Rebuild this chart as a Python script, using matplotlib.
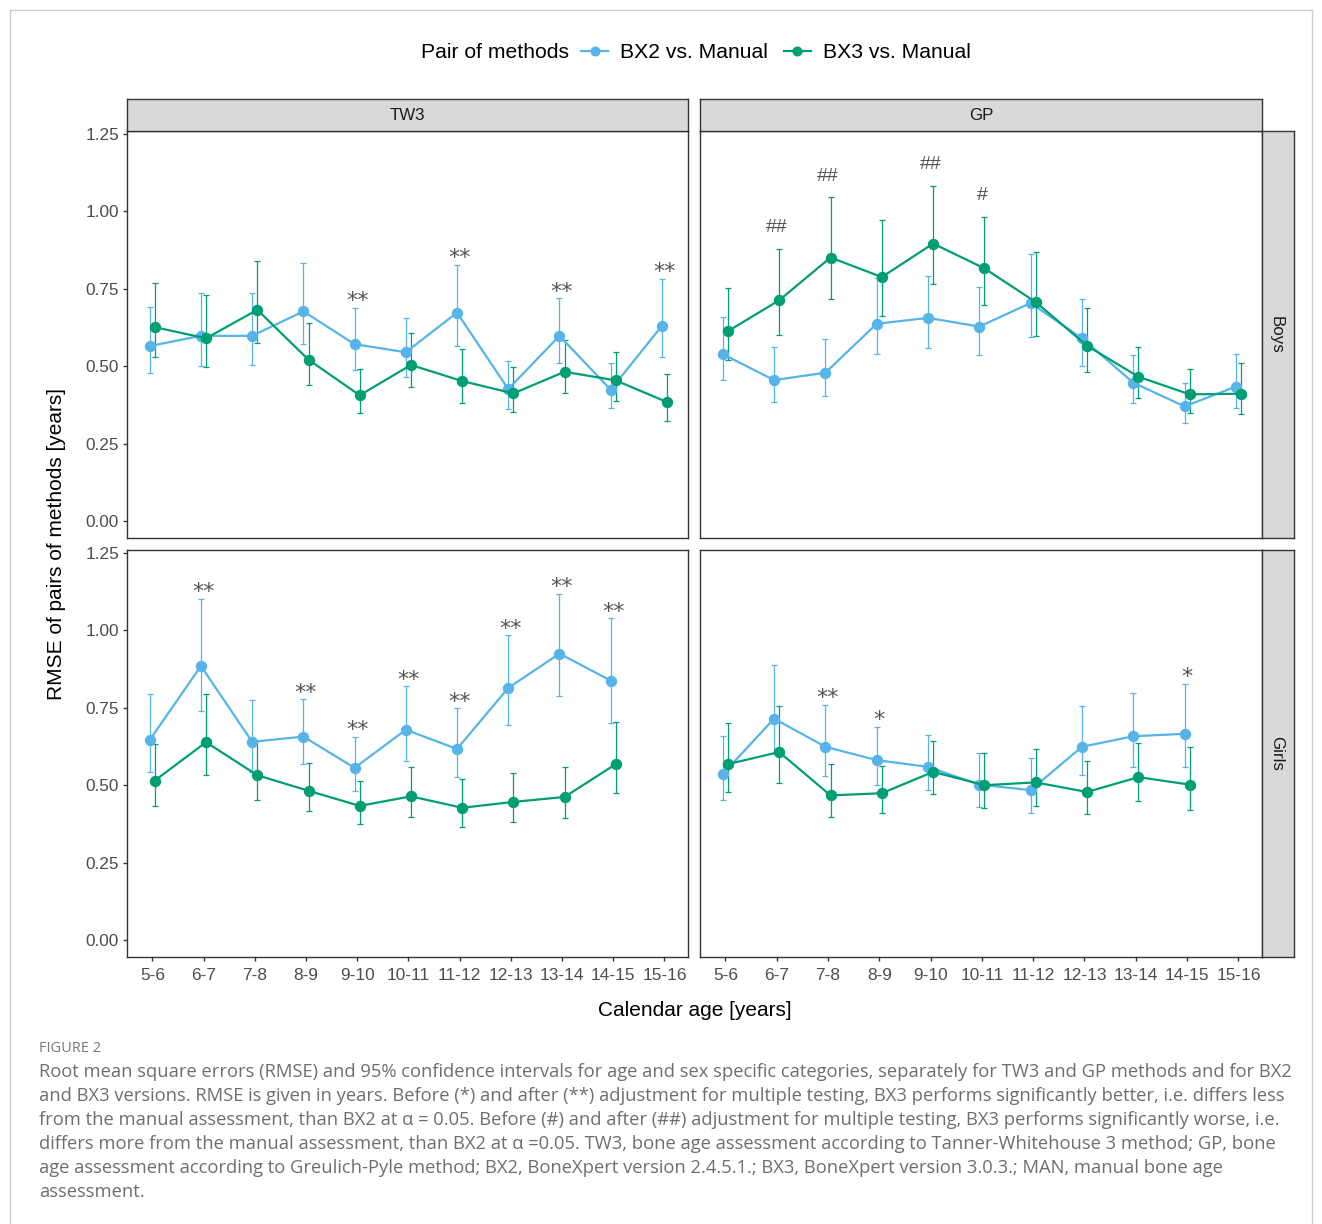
import matplotlib
matplotlib.use("Agg")
import matplotlib.pyplot as plt
from matplotlib.lines import Line2D
import numpy as np

# ---------------- data ----------------
ages = ["5-6", "6-7", "7-8", "8-9", "9-10", "10-11", "11-12", "12-13", "13-14", "14-15", "15-16"]
methods = ["TW3", "GP"]
sexes = ["Boys", "Girls"]
series_names = ["BX2 vs. Manual", "BX3 vs. Manual"]

tw3_boys_bx2 = [0.565, 0.598, 0.598, 0.677, 0.571, 0.545, 0.673, 0.426, 0.598, 0.424, 0.630]
tw3_boys_bx2_lo = [0.477, 0.502, 0.504, 0.572, 0.487, 0.466, 0.566, 0.362, 0.509, 0.364, 0.529]
tw3_boys_bx2_hi = [0.690, 0.737, 0.735, 0.832, 0.688, 0.656, 0.826, 0.518, 0.719, 0.509, 0.781]
tw3_boys_bx3 = [0.626, 0.590, 0.682, 0.521, 0.406, 0.504, 0.452, 0.412, 0.482, 0.454, 0.384]
tw3_boys_bx3_lo = [0.530, 0.497, 0.575, 0.439, 0.348, 0.432, 0.382, 0.351, 0.412, 0.389, 0.323]
tw3_boys_bx3_hi = [0.768, 0.729, 0.839, 0.641, 0.490, 0.606, 0.556, 0.498, 0.584, 0.545, 0.476]
tw3_boys_sig = ["", "", "", "", "**", "", "**", "", "**", "", "**"]

gp_boys_bx2 = [0.539, 0.455, 0.479, 0.637, 0.656, 0.628, 0.704, 0.590, 0.447, 0.370, 0.434]
gp_boys_bx2_lo = [0.455, 0.383, 0.403, 0.538, 0.560, 0.537, 0.593, 0.502, 0.380, 0.316, 0.365]
gp_boys_bx2_hi = [0.660, 0.562, 0.588, 0.784, 0.792, 0.757, 0.863, 0.716, 0.537, 0.445, 0.538]
gp_boys_bx3 = [0.613, 0.713, 0.851, 0.788, 0.896, 0.816, 0.707, 0.566, 0.466, 0.409, 0.411]
gp_boys_bx3_lo = [0.519, 0.600, 0.717, 0.663, 0.765, 0.697, 0.597, 0.480, 0.397, 0.350, 0.345]
gp_boys_bx3_hi = [0.752, 0.880, 1.046, 0.971, 1.082, 0.982, 0.869, 0.687, 0.563, 0.491, 0.509]
gp_boys_sig = ["", "##", "##", "", "##", "#", "", "", "", "", ""]

tw3_girls_bx2 = [0.646, 0.885, 0.640, 0.657, 0.556, 0.679, 0.617, 0.814, 0.925, 0.838]
tw3_girls_bx2_lo = [0.544, 0.739, 0.542, 0.568, 0.481, 0.579, 0.525, 0.693, 0.787, 0.700]
tw3_girls_bx2_hi = [0.795, 1.102, 0.776, 0.777, 0.656, 0.819, 0.748, 0.984, 1.119, 1.039]
tw3_girls_bx3 = [0.515, 0.639, 0.532, 0.482, 0.433, 0.464, 0.427, 0.446, 0.462, 0.568]
tw3_girls_bx3_lo = [0.433, 0.534, 0.452, 0.418, 0.375, 0.397, 0.365, 0.381, 0.394, 0.476]
tw3_girls_bx3_hi = [0.633, 0.796, 0.644, 0.571, 0.514, 0.560, 0.519, 0.538, 0.560, 0.705]
tw3_girls_sig = ["", "**", "", "**", "**", "**", "**", "**", "**", "**"]

gp_girls_bx2 = [0.536, 0.715, 0.624, 0.581, 0.559, 0.502, 0.484, 0.624, 0.658, 0.666]
gp_girls_bx2_lo = [0.451, 0.605, 0.531, 0.502, 0.486, 0.429, 0.411, 0.532, 0.560, 0.558]
gp_girls_bx2_hi = [0.659, 0.889, 0.760, 0.687, 0.661, 0.605, 0.587, 0.755, 0.797, 0.828]
gp_girls_bx3 = [0.568, 0.607, 0.467, 0.474, 0.543, 0.500, 0.509, 0.478, 0.526, 0.502]
gp_girls_bx3_lo = [0.479, 0.506, 0.398, 0.410, 0.471, 0.426, 0.434, 0.408, 0.448, 0.420]
gp_girls_bx3_hi = [0.700, 0.755, 0.567, 0.561, 0.643, 0.603, 0.617, 0.577, 0.636, 0.623]
gp_girls_sig = ["", "", "**", "*", "", "", "", "", "", "*"]

y_ticks = [0.00, 0.25, 0.50, 0.75, 1.00, 1.25]

caption_title = "FIGURE 2"
caption_lines = [
    "Root mean square errors (RMSE) and 95% confidence intervals for age and sex specific categories, separately for TW3 and GP methods and for BX2",
    "and BX3 versions. RMSE is given in years. Before (*) and after (**) adjustment for multiple testing, BX3 performs significantly better, i.e. differs less",
    "from the manual assessment, than BX2 at \u03b1 = 0.05. Before (#) and after (##) adjustment for multiple testing, BX3 performs significantly worse, i.e.",
    "differs more from the manual assessment, than BX2 at \u03b1 =0.05. TW3, bone age assessment according to Tanner-Whitehouse 3 method; GP, bone",
    "age assessment according to Greulich-Pyle method; BX2, BoneXpert version 2.4.5.1.; BX3, BoneXpert version 3.0.3.; MAN, manual bone age",
    "assessment.",
]

panels = {
    ("TW3", "Boys"): ((tw3_boys_bx2, tw3_boys_bx2_lo, tw3_boys_bx2_hi),
                      (tw3_boys_bx3, tw3_boys_bx3_lo, tw3_boys_bx3_hi), tw3_boys_sig),
    ("GP", "Boys"): ((gp_boys_bx2, gp_boys_bx2_lo, gp_boys_bx2_hi),
                     (gp_boys_bx3, gp_boys_bx3_lo, gp_boys_bx3_hi), gp_boys_sig),
    ("TW3", "Girls"): ((tw3_girls_bx2, tw3_girls_bx2_lo, tw3_girls_bx2_hi),
                       (tw3_girls_bx3, tw3_girls_bx3_lo, tw3_girls_bx3_hi), tw3_girls_sig),
    ("GP", "Girls"): ((gp_girls_bx2, gp_girls_bx2_lo, gp_girls_bx2_hi),
                      (gp_girls_bx3, gp_girls_bx3_lo, gp_girls_bx3_hi), gp_girls_sig),
}

# ---------------- style ----------------
W, H = 1322, 1224
colors = ["#56B4E9", "#009E73"]
dodge = [-0.05, 0.05]
FONT = ["Liberation Sans", "DejaVu Sans"]
plt.rcParams["font.family"] = FONT

fig = plt.figure(figsize=(W / 100, H / 100), dpi=100)
fig.patch.set_facecolor("white")


def box(x0, y0, x1, y1):
    return [x0 / W, 1 - y1 / H, (x1 - x0) / W, (y1 - y0) / H]


col_x = [(127, 688), (700, 1262)]
row_y = [(131, 538), (550, 957)]
edge = "#333333"

for r, sex in enumerate(sexes):
    for c, meth in enumerate(methods):
        x0, x1 = col_x[c]
        y0, y1 = row_y[r]
        ax = fig.add_axes(box(x0, y0, x1, y1))
        ax.set_facecolor("white")
        s2, s3, sig = panels[(meth, sex)]
        for k, (vals, lo, hi) in enumerate([s2, s3]):
            v = np.array(vals)
            lo = np.array(lo)
            hi = np.array(hi)
            xs = np.arange(len(v)) + dodge[k]
            ax.errorbar(xs, v, yerr=[v - lo, hi - v], fmt="none", ecolor=colors[k],
                        elinewidth=0.9, capsize=2.4, capthick=0.9, zorder=2)
            ax.plot(xs, v, color=colors[k], lw=1.6, marker="o", ms=7.2,
                    mec=colors[k], mfc=colors[k], zorder=3, label=series_names[k])
        # significance labels
        top = np.maximum(np.array(s2[2]), np.array(s3[2]))
        for i, lab in enumerate(sig):
            if not lab:
                continue
            if "#" in lab:
                ax.text(i, top[i] + 0.068, lab, ha="center", va="center",
                        fontsize=14, color="#555555", family=FONT)
            else:
                ax.text(i, top[i] + 0.022, lab, ha="center", va="center",
                        fontsize=16, color="#555555", family=["DejaVu Sans"])
        ax.set_xlim(-0.494, 10.46)
        ax.set_ylim(-0.055, 1.2597)
        for sp in ax.spines.values():
            sp.set_color(edge)
            sp.set_linewidth(1.0)
        ax.tick_params(colors=edge, length=3.2, width=1.0, labelcolor="#4D4D4D",
                       labelsize=12.4, pad=2.5)
        ax.tick_params(axis="x", pad=4.5)
        ax.set_xticks(range(len(ages)))
        if r == 1:
            ax.set_xticklabels(ages)
        else:
            ax.tick_params(axis="x", length=0, labelbottom=False)
        ax.set_yticks(y_ticks)
        if c == 0:
            ax.set_yticklabels([f"{t:.2f}" for t in y_ticks])
        else:
            ax.tick_params(axis="y", length=0, labelleft=False)

# strips
for c, meth in enumerate(methods):
    x0, x1 = col_x[c]
    sax = fig.add_axes(box(x0, 99, x1, 131))
    sax.set_facecolor("#D9D9D9")
    sax.set_xticks([])
    sax.set_yticks([])
    for sp in sax.spines.values():
        sp.set_color(edge)
        sp.set_linewidth(1.0)
    sax.text(0.5, 0.47, meth, ha="center", va="center", fontsize=12.2,
             color="#1A1A1A", transform=sax.transAxes)
for r, sex in enumerate(sexes):
    y0, y1 = row_y[r]
    sax = fig.add_axes(box(1262, y0, 1294, y1))
    sax.set_facecolor("#D9D9D9")
    sax.set_xticks([])
    sax.set_yticks([])
    for sp in sax.spines.values():
        sp.set_color(edge)
        sp.set_linewidth(1.0)
    sax.text(0.45, 0.5, sex, ha="center", va="center", fontsize=12.2, rotation=-90,
             color="#1A1A1A", transform=sax.transAxes)

# axis titles
fig.text(694.5 / W, 1 - 1010 / H, "Calendar age [years]", ha="center", va="center",
         fontsize=15, color="black")
fig.text(57 / W, 1 - 544 / H, "RMSE of pairs of methods [years]", ha="center",
         va="center", rotation=90, fontsize=15, color="black")

# legend
fig.text(421 / W, 1 - 53 / H, "Pair of methods", ha="left", va="center",
         fontsize=15.2, color="black")
lh = [Line2D([0], [0], color=colors[k], lw=1.6, marker="o", ms=6.2) for k in range(2)]
fig.legend(lh, series_names, loc="center left", bbox_to_anchor=(581 / W, 1 - 53 / H),
           ncol=2, frameon=False, fontsize=15.2, handlelength=1.3, handletextpad=0.55,
           columnspacing=0.75, borderpad=0, borderaxespad=0)

# outer frame
frame_col = "#CCCCCC"
fig.add_artist(Line2D([10 / W, 1312 / W], [1 - 10 / H, 1 - 10 / H], color=frame_col, lw=1))
fig.add_artist(Line2D([10 / W, 10 / W], [0, 1 - 10 / H], color=frame_col, lw=1))
fig.add_artist(Line2D([1312 / W, 1312 / W], [0, 1 - 10 / H], color=frame_col, lw=1))

# caption
cap_font = ["Open Sans", "DejaVu Sans"]
fig.text(39 / W, 1 - 1048 / H, caption_title, ha="left", va="center", fontsize=10.5,
         color="#777777", family=cap_font)
for i, line in enumerate(caption_lines):
    fig.text(39 / W, 1 - (1072 + 24 * i) / H, line, ha="left", va="center",
             fontsize=13.2, color="#6E6E6E", family=cap_font)

fig.savefig("out.png", dpi=100, facecolor="white")
